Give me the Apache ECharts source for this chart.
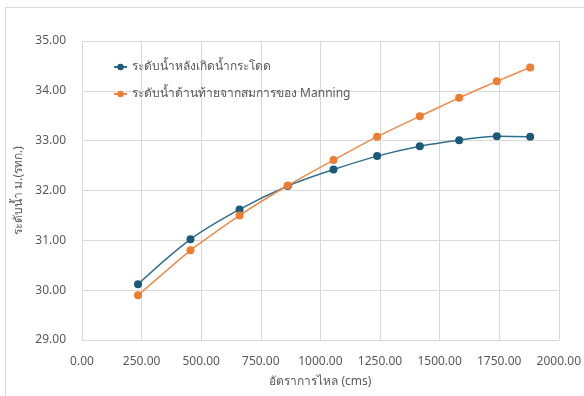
<!DOCTYPE html>
<html>
<head>
<meta charset="utf-8">
<script src="https://cdn.jsdelivr.net/npm/echarts@6/dist/echarts.min.js"></script>
<style>
  html, body { margin: 0; padding: 0; background: #fff; }
  #chart { width: 584px; height: 396px; }
</style>
</head>
<body>
<div id="chart"></div>
<script>
// Flow rate (cms) at each computed section
const flowRates = [235, 455, 661, 863, 1055, 1238, 1417, 1582, 1740, 1880];
// Water level after the hydraulic jump (m. MSL)
const levelAfterJump = [30.12, 31.02, 31.62, 32.09, 32.42, 32.69, 32.89, 33.01, 33.09, 33.08];
// Tailwater level from Manning's equation (m. MSL)
const levelManning = [29.90, 30.80, 31.50, 32.10, 32.61, 33.08, 33.49, 33.86, 34.19, 34.47];

const seriesNames = ['ระดับน้ำหลังเกิดน้ำกระโดด', 'ระดับน้ำด้านท้ายจากสมการของ Manning'];
const xAxisTitle = 'อัตราการไหล (cms)';
const yAxisTitle = 'ระดับน้ำ ม.(รทก.)';

const pairs = (xs, ys) => xs.map((x, i) => [x, ys[i]]);

const textColor = '#595959';
const gridColor = '#d9d9d9';
const fontFamily = 'Tahoma, "Noto Sans", sans-serif';

const chart = echarts.init(document.getElementById('chart'));
chart.setOption({
  backgroundColor: '#ffffff',
  animation: false,
  textStyle: { fontFamily: fontFamily },
  graphic: [{
    type: 'rect',
    shape: { x: 5.5, y: 7.5, width: 640, height: 420 },
    style: { fill: 'none', stroke: gridColor, lineWidth: 1 },
    silent: true, z: -1
  }],
  grid: { left: 82, right: 25, top: 41, bottom: 56 },
  legend: {
    orient: 'vertical',
    left: 108, top: 56,
    itemGap: 15,
    itemWidth: 13, itemHeight: 8,
    textStyle: { color: textColor, fontSize: 12, fontFamily: fontFamily },
    data: seriesNames
  },
  xAxis: {
    type: 'value',
    min: 0, max: 2000, interval: 250,
    name: xAxisTitle,
    nameLocation: 'middle', nameGap: 36,
    nameTextStyle: { color: textColor, fontSize: 12 },
    axisLine: { show: true, lineStyle: { color: gridColor } },
    axisTick: { show: false },
    axisLabel: { color: textColor, fontSize: 12, margin: 16, formatter: v => v.toFixed(2) },
    splitLine: { show: true, lineStyle: { color: gridColor } }
  },
  yAxis: {
    type: 'value',
    min: 29, max: 35, interval: 1,
    name: yAxisTitle,
    nameLocation: 'middle', nameGap: 52,
    nameTextStyle: { color: textColor, fontSize: 12 },
    axisLine: { show: false },
    axisTick: { show: false },
    axisLabel: { color: textColor, fontSize: 12, margin: 16, formatter: v => v.toFixed(2) },
    splitLine: { show: true, lineStyle: { color: gridColor } }
  },
  series: [
    {
      name: seriesNames[0],
      type: 'line',
      data: pairs(flowRates, levelAfterJump),
      smooth: 0.35,
      symbol: 'circle', symbolSize: 8,
      itemStyle: { color: '#1c5a7a' },
      lineStyle: { color: '#2f6f8f', width: 1.5 }
    },
    {
      name: seriesNames[1],
      type: 'line',
      data: pairs(flowRates, levelManning),
      smooth: 0.15,
      symbol: 'circle', symbolSize: 8,
      itemStyle: { color: '#ed7d31' },
      lineStyle: { color: '#f08a4b', width: 1.5 }
    }
  ]
});
</script>
</body>
</html>
